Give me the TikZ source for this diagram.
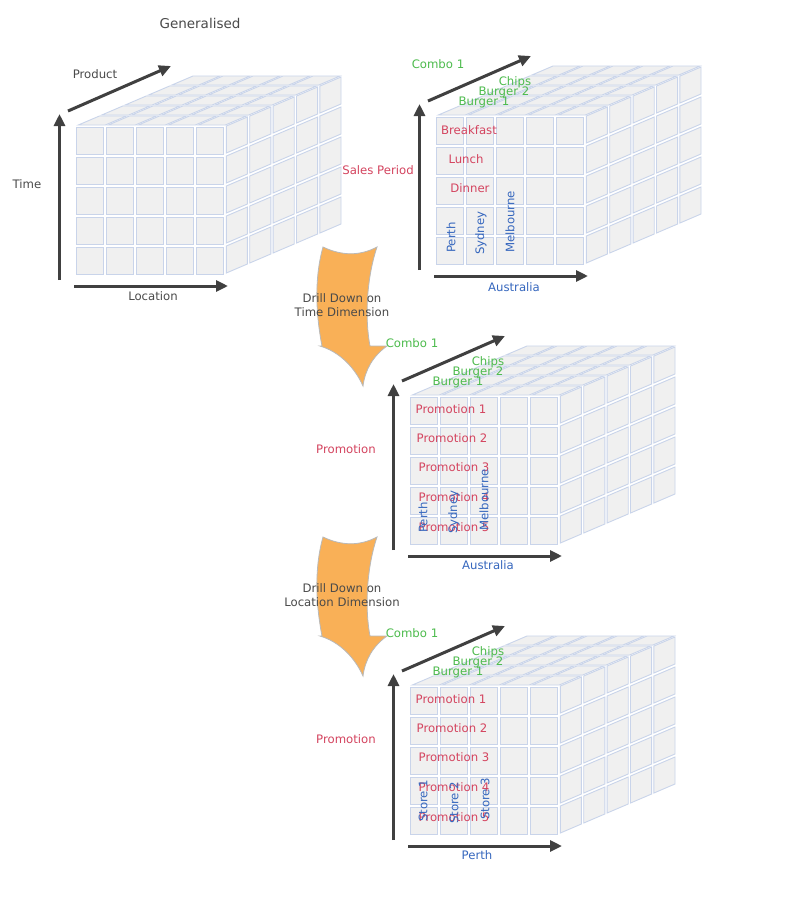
\documentclass[tikz,border=0pt]{standalone}
\usepackage{fontspec}
\setmainfont{DejaVu Sans}
\usetikzlibrary{arrows.meta}

\definecolor{cellfill}{HTML}{F0F0F0}
\definecolor{cellline}{HTML}{C9D4EA}
\definecolor{axisgray}{HTML}{404040}
\definecolor{labelgreen}{HTML}{4DBB4D}
\definecolor{labelred}{HTML}{D4445F}
\definecolor{labelblue}{HTML}{3667BE}
\definecolor{textgray}{HTML}{4A4A4A}
\definecolor{drillorange}{HTML}{F9B057}

\tikzset{
  cell/.style={fill=cellfill, draw=cellline, line width=0.9pt},
  axis/.style={draw=axisgray, line width=3pt, -{Triangle[length=12pt,width=11pt]}},
  lbl/.style={font=\fontsize{11.7}{14}\selectfont, inner sep=0pt},
  dimname/.style={lbl, textgray},
  product/.style={lbl, labelgreen},
  period/.style={lbl, labelred},
  place/.style={lbl, labelblue},
  placeup/.style={place, rotate=90, anchor=west},
  drilltext/.style={lbl, textgray, align=center},
  drillarrow/.style={fill=drillorange, draw=gray!55, line width=0.8pt}
}

% cube of 5x5x5 cells, #1 name, (#2,#3) top left corner of the front face
\newcommand{\datacube}[3]{%
  \begin{scope}[shift={(#2,#3)}]
    % top face
    \foreach \i in {0,...,4} {
      \foreach \k in {0,...,4} {
        \pgfmathsetmacro\wa{30*\k+3}
        \pgfmathsetmacro\wb{30*\k+30}
        \draw[cell] ({30*\i+0.78*\wa},{-1-\wa/3}) -- ({30*\i+27+0.78*\wa},{-1-\wa/3})
          -- ({30*\i+27+0.78*\wb},{-1-\wb/3}) -- ({30*\i+0.78*\wb},{-1-\wb/3}) -- cycle;
      }
    }
    % right face
    \foreach \k in {0,...,4} {
      \foreach \j in {0,...,4} {
        \pgfmathsetmacro\wa{30*\k+3}
        \pgfmathsetmacro\wb{30*\k+30}
        \draw[cell] ({148+0.78*\wa},{30*\j-\wa/3}) -- ({148+0.78*\wb},{30*\j-\wb/3})
          -- ({148+0.78*\wb},{30*\j+27-\wb/3}) -- ({148+0.78*\wa},{30*\j+27-\wa/3}) -- cycle;
      }
    }
    % front face
    \foreach \i in {0,...,4} {
      \foreach \j in {0,...,4} {
        \draw[cell] (30*\i,30*\j) rectangle ++(27,27);
      }
    }
    \coordinate (#1-vo) at (-16.5,153);
    \coordinate (#1-up) at (-16.5,-13);
    \coordinate (#1-ho) at (-2,159);
    \coordinate (#1-right) at (152,159);
    \coordinate (#1-do) at (-8,-16);
    \coordinate (#1-back) at (95,-61);
  \end{scope}
  \draw[axis] (#1-vo) -- (#1-up);
  \draw[axis] (#1-ho) -- (#1-right);
  \draw[axis] (#1-do) -- (#1-back);
}

% curved block arrow, shifted down by #1
\newcommand{\drillarrow}[1]{%
  \begin{scope}[yshift={-#1pt}]
    \draw[drillarrow] (323,247) .. controls (342,256) and (360,256) .. (377,247)
      .. controls (366,280) and (365,320) .. (370,346) -- (387,346)
      .. controls (373,356) and (365,370) .. (363,386)
      .. controls (355,368) and (340,352) .. (320,346) -- (322,346)
      .. controls (315,310) and (315,275) .. (323,247) -- cycle;
  \end{scope}
}

\begin{document}
\begin{tikzpicture}[x=1pt, y=-1pt]
  \fill[white] (0,0) rectangle (800,900);
  \useasboundingbox (0,0) rectangle (800,900);

  \datacube{gen}{76}{127}
  \datacube{sales}{436}{117}
  \datacube{promo}{410}{397}
  \datacube{store}{410}{687}

  \drillarrow{0}
  \drillarrow{290}

  % generalised cube
  \node[dimname, font=\fontsize{13.5}{16}\selectfont] (title) at (200,23) {Generalised};
  \node[dimname] (gen-product) at (95,74) {Product};
  \node[dimname] (gen-time) at (27,184) {Time};
  \node[dimname] (gen-location) at (153,296) {Location};

  % sales period cube
  \node[product] (sales-combo) at (438,64) {Combo 1};
  \node[product] (sales-chips) at (515,82) {Chips};
  \node[product] (sales-burger2) at (504,92) {Burger 2};
  \node[product] (sales-burger1) at (484,102) {Burger 1};
  \node[period] (sales-breakfast) at (469,130) {Breakfast};
  \node[period] (sales-lunch) at (466,159) {Lunch};
  \node[period] (sales-dinner) at (470,188) {Dinner};
  \node[period] (sales-axis) at (378,170) {Sales Period};
  \node[placeup] (sales-perth) at (451,253) {Perth};
  \node[placeup] (sales-sydney) at (481,255) {Sydney};
  \node[placeup] (sales-melbourne) at (510,253) {Melbourne};
  \node[place] (sales-australia) at (514,287) {Australia};

  \node[drilltext] (drill-time) at (342,305) {Drill Down on\\Time Dimension};

  % promotion cube
  \node[product] (promo-combo) at (412,343) {Combo 1};
  \node[product] (promo-chips) at (488,362) {Chips};
  \node[product] (promo-burger2) at (478,372) {Burger 2};
  \node[product] (promo-burger1) at (458,382) {Burger 1};
  \node[period] (promo-p1) at (451,409) {Promotion 1};
  \node[period] (promo-p2) at (452,438) {Promotion 2};
  \node[period] (promo-p3) at (454,467) {Promotion 3};
  \node[period] (promo-p4) at (454,497) {Promotion 4};
  \node[period] (promo-p5) at (454,527) {Promotion 5};
  \node[period] (promo-axis) at (346,449) {Promotion};
  \node[placeup] (promo-perth) at (423,533) {Perth};
  \node[placeup] (promo-sydney) at (454,534) {Sydney};
  \node[placeup] (promo-melbourne) at (484,531) {Melbourne};
  \node[place] (promo-australia) at (488,565) {Australia};

  \node[drilltext] (drill-location) at (342,595) {Drill Down on\\Location Dimension};

  % store cube
  \node[product] (store-combo) at (412,633) {Combo 1};
  \node[product] (store-chips) at (488,652) {Chips};
  \node[product] (store-burger2) at (478,662) {Burger 2};
  \node[product] (store-burger1) at (458,672) {Burger 1};
  \node[period] (store-p1) at (451,699) {Promotion 1};
  \node[period] (store-p2) at (452,728) {Promotion 2};
  \node[period] (store-p3) at (454,757) {Promotion 3};
  \node[period] (store-p4) at (454,787) {Promotion 4};
  \node[period] (store-p5) at (454,817) {Promotion 5};
  \node[period] (store-axis) at (346,739) {Promotion};
  \node[placeup] (store-s1) at (423,822) {Store 1};
  \node[placeup] (store-s2) at (454,824) {Store 2};
  \node[placeup] (store-s3) at (485,820) {Store 3};
  \node[place] (store-perth) at (477,855) {Perth};
\end{tikzpicture}
\end{document}
